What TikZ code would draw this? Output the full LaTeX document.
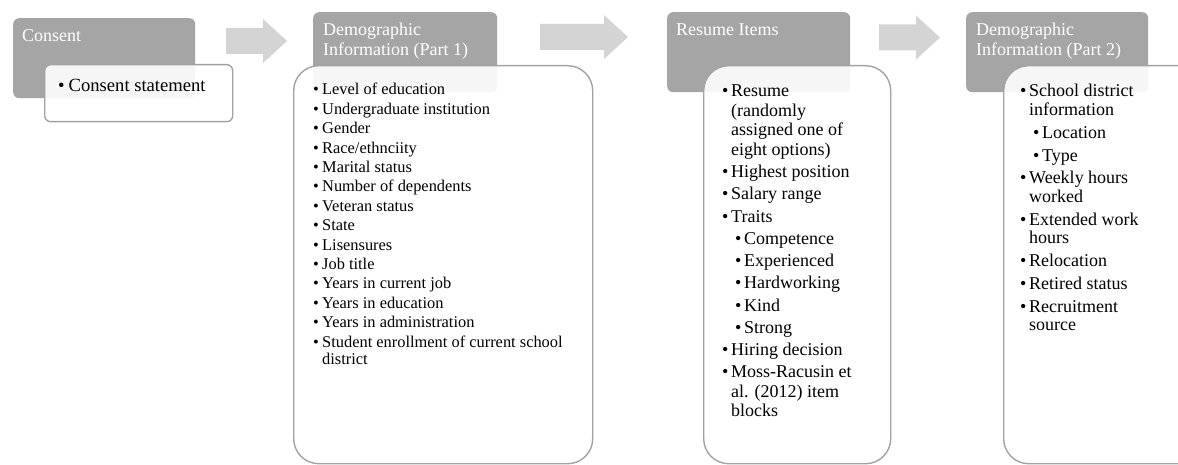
\documentclass[tikz,border=0pt]{standalone}
\usepackage{fontspec}
\setmainfont{Liberation Serif}
\usetikzlibrary{positioning}
\definecolor{headgray}{HTML}{A5A5A5}
\definecolor{boxline}{HTML}{A3A3A3}
\definecolor{arrowgray}{HTML}{D4D4D4}
\tikzset{
    stage/.style={fill=headgray,rounded corners=6pt,anchor=north west,inner sep=0},
    itembox/.style={draw=boxline,line width=1.4pt,fill=white,fill opacity=0.9,rounded corners=25pt,anchor=north west,inner sep=0},
    headtext/.style={anchor=base west,inner sep=0,text=white,font=\fontsize{18}{20}\selectfont},
    listtext/.style={anchor=base west,inner sep=0,text=black}
}
% bullet items for the lists
\newcommand{\pitem}[1]{\par\hangindent=9pt\hangafter=1\noindent\makebox[9pt][l]{\textbullet}#1}
\newcommand{\psub}[1]{\par\hangindent=22pt\hangafter=1\noindent\hspace*{13pt}\makebox[9pt][l]{\textbullet}#1}
% block arrow: left x, middle y, length
\newcommand{\stagearrow}[3]{%
  \fill[arrowgray] (#1,#2-13) -- (#1+#3-24,#2-13) -- (#1+#3-24,#2-22) -- (#1+#3,#2)
    -- (#1+#3-24,#2+22) -- (#1+#3-24,#2+13) -- (#1,#2+13) -- cycle;}

\begin{document}
\begin{tikzpicture}[x=1pt,y=-1pt]
\clip (0,0) rectangle (1178,465);
\fill[white] (0,0) rectangle (1178,465);

% Pfeile zwischen den Stufen
\stagearrow{226}{41}{61}
\stagearrow{540}{37}{88}
\stagearrow{879}{37.5}{61}

% Kopfzeilen
\node[stage,minimum width=182pt,minimum height=80pt] (consentHead) at (13,18) {};
\node[stage,minimum width=184pt,minimum height=80pt] (demoHead) at (313,12) {};
\node[stage,minimum width=183pt,minimum height=80pt] (resumeHead) at (667,12) {};
\node[stage,minimum width=182pt,minimum height=80pt] (districtHead) at (966,12) {};

\node[headtext] (consentTitle) at ([xshift=9pt,yshift=-24pt]consentHead.north west) {Consent};
\node[headtext] (demoTitle) at ([xshift=10pt,yshift=-24pt]demoHead.north west) {Demographic};
\node[headtext] (demoTitleB) at ([yshift=-19.5pt]demoTitle.base west) {Information (Part 1)};
\node[headtext] (resumeTitle) at ([xshift=9pt,yshift=-24pt]resumeHead.north west) {Resume Items};
\node[headtext] (districtTitle) at ([xshift=10pt,yshift=-24pt]districtHead.north west) {Demographic};
\node[headtext] (districtTitleB) at ([yshift=-19.5pt]districtTitle.base west) {Information (Part 2)};

% Inhaltsboxen
\node[itembox,rounded corners=6pt,minimum width=188pt,minimum height=57pt] (consentBox) at (44,64) {};
\node[itembox,minimum width=299pt,minimum height=398pt] (demoBox) at (293,65) {};
\node[itembox,minimum width=187pt,minimum height=398pt] (resumeBox) at (703,65) {};
\node[itembox,minimum width=200pt,minimum height=398pt] (districtBox) at (1003,65) {};

% Listen
\node[listtext,font=\fontsize{18.6}{20}\selectfont] (consentList) at (58,92) {\textbullet\hspace{4pt}Consent statement};

\node[listtext,font=\fontsize{16.4}{17}\selectfont] (demoList) at (313,95) {\parbox[t]{266pt}{\raggedright\setlength{\parskip}{2.4pt}%
  \pitem{Level of education}
  \pitem{Undergraduate institution}
  \pitem{Gender}
  \pitem{Race/ethnciity}
  \pitem{Marital status}
  \pitem{Number of dependents}
  \pitem{Veteran status}
  \pitem{State}
  \pitem{Lisensures}
  \pitem{Job title}
  \pitem{Years in current job}
  \pitem{Years in education}
  \pitem{Years in administration}
  \pitem{Student enrollment of current school district}}};

\node[listtext,font=\fontsize{18}{19.5}\selectfont] (resumeList) at (722,97) {\parbox[t]{137pt}{\raggedright\setlength{\parskip}{2.75pt}%
  \pitem{Resume (randomly assigned one of eight options)}
  \pitem{Highest position}
  \pitem{Salary range}
  \pitem{Traits}
  \psub{Competence}
  \psub{Experienced}
  \psub{Hardworking}
  \psub{Kind}
  \psub{Strong}
  \pitem{Hiring decision}
  \pitem{Moss-Racusin et al. (2012) item blocks}}};

\node[listtext,font=\fontsize{18}{18.5}\selectfont] (districtList) at (1020,97) {\parbox[t]{137pt}{\raggedright\setlength{\parskip}{4.3pt}%
  \pitem{School district information}
  \psub{Location}
  \psub{Type}
  \pitem{Weekly hours worked}
  \pitem{Extended work hours}
  \pitem{Relocation}
  \pitem{Retired status}
  \pitem{Recruitment source}}};
\end{tikzpicture}
\end{document}
